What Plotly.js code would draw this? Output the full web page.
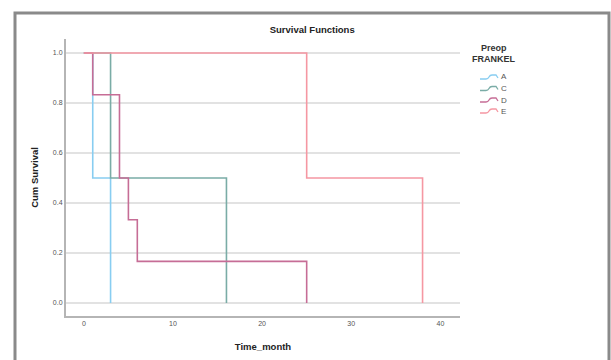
<!DOCTYPE html>
<html>
<head>
<meta charset="utf-8">
<script src="https://cdn.plot.ly/plotly-3.0.1.min.js"></script>
<style>html,body{margin:0;padding:0;background:#fff;}#chart{width:611px;height:360px;}</style>
</head>
<body>
<div id="chart"></div>
<script>
// ---- data (Kaplan-Meier step values) ----
var groups = ["A", "C", "D", "E"];
var timeA = [0, 1, 3];
var survA = [1, 0.5, 0];
var timeC = [0, 3, 16];
var survC = [1, 0.5, 0];
var timeD = [0, 1, 4, 5, 6, 25];
var survD = [1, 0.8333, 0.5, 0.3333, 0.1667, 0];
var timeE = [0, 25, 38];
var survE = [1, 0.5, 0];
var xTicks = [0, 10, 20, 30, 40];
var yTicks = [0, 0.2, 0.4, 0.6, 0.8, 1.0];
var yTickText = ["0.0", "0.2", "0.4", "0.6", "0.8", "1.0"];

var colors = ["#88cdf1", "#7aaca6", "#c66d96", "#f597a2"];
var times = [timeA, timeC, timeD, timeE];
var survs = [survA, survC, survD, survE];

var W = 611, H = 360;
var mL = 66, mR = 151, mT = 39, mB = 44;
var pw = W - mL - mR, ph = H - mT - mB;
function px(x) { return (x - mL) / pw; }
function py(y) { return (H - mB - y) / ph; }

var traces = groups.map(function (g, i) {
  return {
    x: times[i], y: survs[i], name: g, type: "scatter", mode: "lines",
    line: { shape: "hv", color: colors[i], width: 1.6 },
    showlegend: false, hoverinfo: "x+y+name"
  };
});

var shapes = [{
  type: "rect", xref: "paper", yref: "paper",
  x0: px(15), x1: px(609), y0: py(372), y1: py(13),
  line: { color: "#8a8a8a", width: 3 }, fillcolor: "rgba(0,0,0,0)", layer: "below"
}];
var annotations = [
  { text: "<b>Preop</b>", xref: "paper", yref: "paper", x: px(494), y: py(48),
    showarrow: false, xanchor: "center", yanchor: "middle",
    font: { family: "Liberation Sans, Arial", size: 9, color: "#333" } },
  { text: "<b>FRANKEL</b>", xref: "paper", yref: "paper", x: px(494), y: py(59),
    showarrow: false, xanchor: "center", yanchor: "middle",
    font: { family: "Liberation Sans, Arial", size: 9, color: "#333" } }
];
var legY = [77, 88.5, 100, 111];
groups.forEach(function (g, i) {
  var yc = legY[i], x0 = 480;
  var path = "M " + px(x0) + "," + py(yc + 2) +
    " L " + px(x0 + 6) + "," + py(yc + 2) +
    " Q " + px(x0 + 8) + "," + py(yc + 2) + " " + px(x0 + 9) + "," + py(yc) +
    " Q " + px(x0 + 10) + "," + py(yc - 2) + " " + px(x0 + 12) + "," + py(yc - 2) +
    " L " + px(x0 + 16) + "," + py(yc - 2) +
    " L " + px(x0 + 18) + "," + py(yc + 1);
  shapes.push({ type: "path", xref: "paper", yref: "paper", path: path,
    line: { color: colors[i], width: 1.3 } });
  annotations.push({ text: g, xref: "paper", yref: "paper", x: px(499), y: py(yc),
    showarrow: false, xanchor: "left", yanchor: "middle",
    font: { family: "Liberation Sans, Arial", size: 8, color: "#555" } });
});

var layout = {
  width: W, height: H,
  margin: { l: mL, r: mR, t: mT, b: mB, pad: 0 },
  paper_bgcolor: "#fff", plot_bgcolor: "#fff",
  showlegend: false,
  title: { text: "<b>Survival Functions</b>", x: 0.511, xref: "container", xanchor: "center",
    y: 1 - 30 / H, yref: "container", yanchor: "middle",
    font: { family: "Liberation Sans, Arial", size: 9.5, color: "#222" } },
  xaxis: {
    range: [-2.0, 42.2], tickvals: xTicks, ticks: "", showgrid: false, zeroline: false,
    showline: true, linecolor: "#b5b5b5", linewidth: 2,
    tickfont: { family: "Liberation Sans, Arial", size: 7, color: "#555" },
    title: { text: "<b>Time_month</b>", standoff: 17,
      font: { family: "Liberation Sans, Arial", size: 9.5, color: "#222" } }
  },
  yaxis: {
    range: [-0.052, 1.056], tickvals: yTicks, ticktext: yTickText, ticks: "",
    showgrid: true, gridcolor: "#e2e2e2", gridwidth: 2, zeroline: false,
    showline: true, linecolor: "#b5b5b5", linewidth: 2,
    tickfont: { family: "Liberation Sans, Arial", size: 7, color: "#555" },
    title: { text: "<b>Cum Survival</b>", standoff: 13,
      font: { family: "Liberation Sans, Arial", size: 9.5, color: "#222" } }
  },
  shapes: shapes,
  annotations: annotations
};

Plotly.newPlot("chart", traces, layout, { displayModeBar: false, staticPlot: true });
</script>
</body>
</html>
